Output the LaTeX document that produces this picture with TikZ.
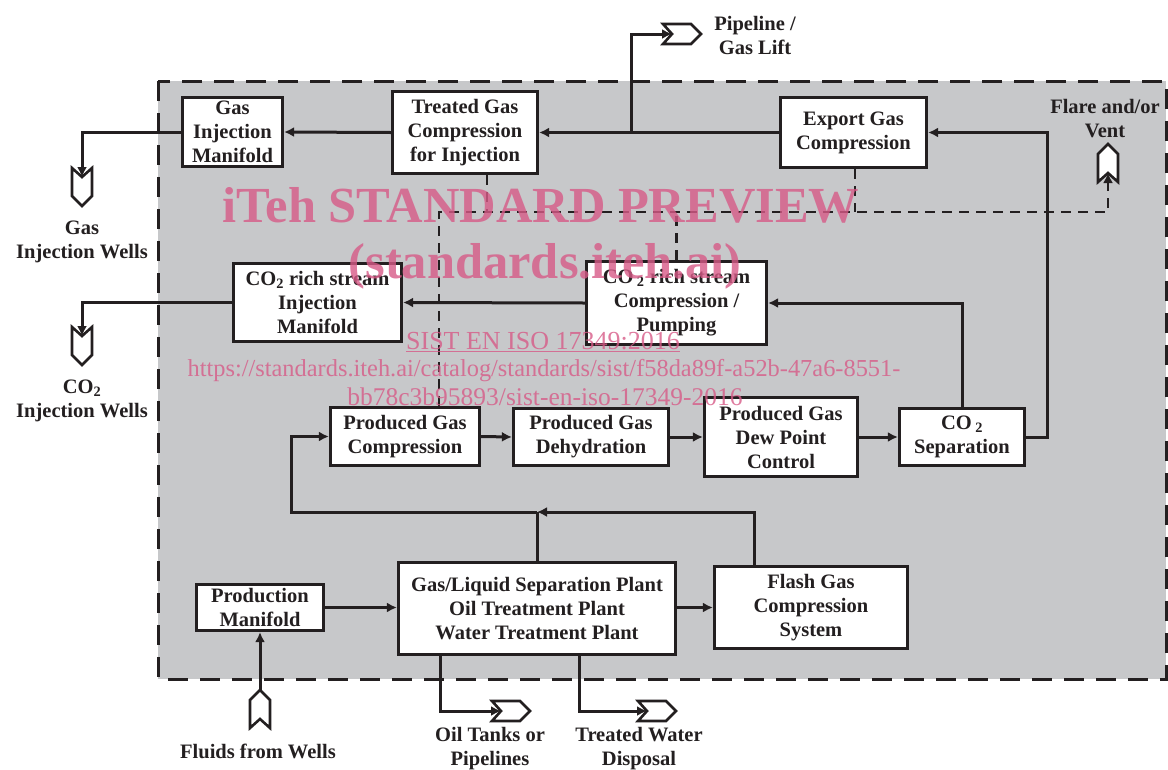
\documentclass[tikz,border=0pt]{standalone}
\usepackage{fontspec}
\newfontfamily\wmfont{Liberation Serif}
\newfontfamily\boxfont{Liberation Serif}
\usetikzlibrary{arrows.meta}
\definecolor{ink}{RGB}{35,31,32}
\definecolor{bg}{RGB}{199,200,202}
\definecolor{wm}{RGB}{215,90,135}
\begin{document}
\begin{tikzpicture}[x=1pt,y=-1pt,
  box/.style={draw=ink, line width=3.2pt, fill=white, align=center, text=ink, font=\boxfont\bfseries\fontsize{20.5}{24}\selectfont, inner sep=0pt},
  lbl/.style={align=center, text=ink, font=\boxfont\bfseries\fontsize{20.5}{24}\selectfont, inner sep=0pt},
  conn/.style={draw=ink, line width=3pt},
  tip/.style={-{Latex[length=10pt,width=10pt]}},
  vent/.style={draw=ink, line width=2.5pt, dash pattern=on 10pt off 7pt},
  wmark/.style={text=wm, text opacity=0.8, inner sep=0pt, anchor=base},
  wellsym/.pic={\draw[ink, line width=2.6pt, fill=white, line join=miter] (0,0) -- (-9,10) -- (19,10) -- (29,0) -- (19,-10) -- (-9,-10) -- cycle;}
]
\useasboundingbox (0,0) rectangle (1168,769);
\fill[white] (0,0) rectangle (1168,769);
\draw[ink, line width=3pt, dash pattern=on 20pt off 12pt, fill=bg] (158,81) rectangle (1166,679);

% boxes
\node[box, minimum width=100, minimum height=69] (gim) at (232.5,132) {Gas\\Injection\\Manifold};
\node[box, minimum width=145, minimum height=82] (tgc) at (465,132.5) {Treated Gas\\Compression\\for Injection};
\node[box, minimum width=146, minimum height=70] (egc) at (853.5,132.5) {Export Gas\\Compression};
\node[box, minimum width=168, minimum height=78] (crim) at (317.5,302.5) {CO\textsubscript{2} rich stream\\Injection\\Manifold};
\node[box, minimum width=180, minimum height=83] (crcp) at (676.5,303) {CO\,\textsubscript{2} rich stream\\Compression /\\Pumping};
\node[box, minimum width=149, minimum height=58] (pgc) at (405,436.5) {Produced Gas\\Compression};
\node[box, minimum width=155, minimum height=57] (pgd) at (591,437) {Produced Gas\\Dehydration};
\node[box, minimum width=153, minimum height=79] (dpc) at (781,437) {Produced Gas\\Dew Point\\Control};
\node[box, minimum width=125, minimum height=57] (co2s) at (962,437) {CO\,\textsubscript{2}\\Separation};
\node[box, minimum width=127, minimum height=46] (pm) at (260,607.5) {Production\\Manifold};
\node[box, minimum width=277, minimum height=92] (gls) at (537,608.5) {Gas/Liquid Separation Plant\\Oil Treatment Plant\\Water Treatment Plant};
\node[box, minimum width=193, minimum height=82] (fgc) at (811,607.5) {Flash Gas\\Compression\\System};

% terminal symbols
\coordinate (pipeN) at (672,34);
\coordinate (gwN) at (82,177);
\coordinate (cwN) at (82,336);
\coordinate (flareN) at (1108,173);
\coordinate (fwT) at (260,690);
\coordinate (oilN) at (501,711);
\coordinate (watN) at (647,711);
\pic at (pipeN) {wellsym};
\pic[rotate=-90] at (gwN) {wellsym};
\pic[rotate=-90] at (cwN) {wellsym};
\pic[rotate=90] at (flareN) {wellsym};
\pic[rotate=90] at (260,719) {wellsym};
\pic at (oilN) {wellsym};
\pic at (watN) {wellsym};

% labels
\node[lbl] (lpipe) at (755,35) {Pipeline /\\Gas Lift};
\node[lbl] (lgw) at (82,242) {Gas\\Injection Wells};
\node[lbl] (lcw) at (82,401) {CO\textsubscript{2}\\Injection Wells};
\node[lbl] (lflare) at (1105,119) {Flare and/or\\Vent};
\node[lbl] (lfw) at (258,751) {Fluids from Wells};
\node[lbl] (loil) at (490,749) {Oil Tanks or\\Pipelines};
\node[lbl] (lwat) at (639,749) {Treated Water\\Disposal};

% junctions
\coordinate (jpipe) at (631,132);
\coordinate (jm) at (537,512);
\coordinate (v1) at (439,212);
\coordinate (vE) at (1108,212);

% connectors
\draw[conn,tip] (tgc.west) -- (gim.east);
\draw[conn,tip] (egc.west) -- (tgc.east);
\draw[conn,tip] (jpipe) |- (pipeN);
\draw[conn,tip] (gim.west) -| (gwN);
\draw[conn,tip] (crim.west) -| (cwN);
\draw[conn,tip] (crcp.west) -- (crim.east);
\draw[conn,tip] (co2s.north) |- (crcp.east);
\draw[conn,tip] (co2s.east) -- ++(21,0) |- (egc.east);
\draw[conn,tip] (pgc.east) -- (pgd.west);
\draw[conn,tip] (pgd.east) -- (dpc.west);
\draw[conn,tip] (dpc.east) -- (co2s.west);
\draw[conn,tip] (pm.east) -- (pm.east -| gls.west);
\draw[conn,tip] (gls.east |- fgc.west) -- (fgc.west);
\draw[conn] (gls.north) -- (jm);
\draw[conn,tip] ([xshift=-57pt]fgc.north) |- (jm);
\draw[conn,tip] (jm) -- (291,512) |- (pgc.west);
\draw[conn,tip] (fwT) -- (pm.south);
\draw[conn,tip] ([xshift=-97pt]gls.south) |- (oilN);
\draw[conn,tip] ([xshift=42pt]gls.south) |- (watN);

% vent header (dashed)
\draw[vent,tip] (pgc.north -| v1) -- (v1) -- (vE) -- (flareN);
\draw[vent] ([xshift=22pt]tgc.south) -- ([xshift=22pt]tgc.south |- v1);
\draw[vent] ([xshift=1.5pt]egc.south) -- ([xshift=1.5pt]egc.south |- v1);
\draw[vent] (crcp.north) -- (crcp.north |- v1);

% watermark
\node[wmark, font=\wmfont\bfseries\fontsize{50.5}{50}\selectfont] (wm1) at (541,222) {iTeh STANDARD PREVIEW};
\node[wmark, font=\wmfont\bfseries\fontsize{50.5}{50}\selectfont] (wm2) at (545,278) {(standards.iteh.ai)};
\node[wmark, font=\wmfont\fontsize{26}{26}\selectfont] (wm3) at (543,349) {\underline{SIST EN ISO 17349:2016}};
\node[wmark, font=\wmfont\fontsize{24.4}{26}\selectfont] (wm4) at (544,376) {https://standards.iteh.ai/catalog/standards/sist/f58da89f-a52b-47a6-8551-};
\node[wmark, font=\wmfont\fontsize{25.5}{26}\selectfont] (wm5) at (545,405) {bb78c3b95893/sist-en-iso-17349-2016};
\end{tikzpicture}
\end{document}
